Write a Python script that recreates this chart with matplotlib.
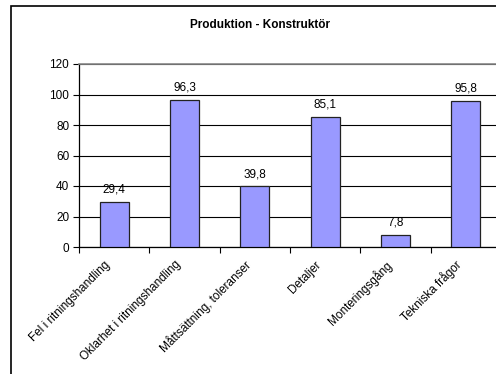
import matplotlib
matplotlib.use('Agg')
import matplotlib.pyplot as plt
import matplotlib.transforms as mtransforms
from matplotlib.patches import Rectangle

categories = ['Fel i ritningshandling', 'Oklarhet i ritningshandling',
              'Måttsättning, toleranser', 'Detaljer', 'Monteringsgång',
              'Tekniska frågor']
values = [29.4, 96.3, 39.8, 85.1, 7.8, 95.8]
value_labels = ['29,4', '96,3', '39,8', '85,1', '7,8', '95,8']
yticks = [0, 20, 40, 60, 80, 100, 120]

plt.rcParams['font.family'] = ['Liberation Sans', 'DejaVu Sans']
FS = 8.5

W, H = 496, 374
fig = plt.figure(figsize=(W / 100, H / 100), dpi=100)

# chart frame
fig.patches.append(Rectangle((11 / W, -0.1), 1.2, 1 - 6 / H + 0.1,
                             transform=fig.transFigure, fill=False,
                             edgecolor='black', linewidth=1.2))

ax = fig.add_axes([79 / W, 1 - 247 / H, 422 / W, 183 / H])
x = [i + 0.5 for i in range(len(values))]
ax.bar(x, values, width=0.41, color='#9999FF', edgecolor='#222222',
       linewidth=0.9, zorder=3)
for xi, v, lab in zip(x, values, value_labels):
    ax.annotate(lab, (xi, v), xytext=(0, 4.5), textcoords='offset points',
                ha='center', va='bottom', fontsize=FS)

ax.set_xlim(0, len(values))
ax.set_ylim(0, 120)
ax.set_yticks(yticks)
ax.set_yticklabels([str(t) for t in yticks], fontsize=FS)
ax.yaxis.grid(True, color='black', linewidth=0.8, zorder=0)
ax.set_axisbelow(True)

# ticks on category boundaries, rotated names under each bar
ax.set_xticks(range(len(values) + 1))
ax.set_xticklabels([])
ax.tick_params(axis='x', length=4, width=0.8, direction='out')
ax.tick_params(axis='y', length=4, width=0.8, direction='out', pad=3)
lab_tr = ax.get_xaxis_transform() + mtransforms.ScaledTranslation(
    -6 / 100, -16 / 100, fig.dpi_scale_trans)
for xi, name in zip(x, categories):
    ax.text(xi, 0, name, transform=lab_tr, rotation=45, ha='right',
            va='center', rotation_mode='anchor', fontsize=FS, clip_on=False)

ax.spines['top'].set_color('#888888')
ax.spines['top'].set_linewidth(1.2)
ax.spines['right'].set_color('#888888')
for s in ['left', 'bottom']:
    ax.spines[s].set_linewidth(0.9)

fig.text(260 / W, 1 - 25 / H, 'Produktion - Konstruktör', ha='center',
         va='center', fontsize=FS, fontweight='bold')

fig.savefig('out.png', dpi=100)
